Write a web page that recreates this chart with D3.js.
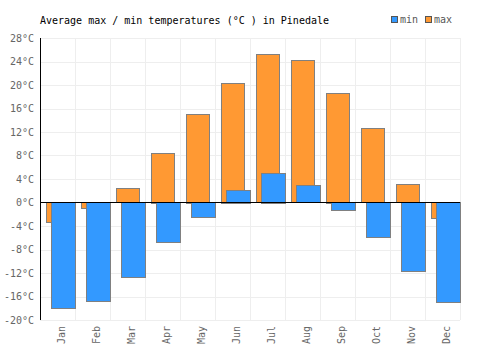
<!DOCTYPE html>
<html><head><meta charset="utf-8">
<script src="https://cdn.jsdelivr.net/npm/d3@7"></script>
<style>body{margin:0;background:#fff}svg{display:block}text{font-family:"DejaVu Sans Mono",monospace}</style>
</head><body>
<svg id="c" width="500" height="350"></svg>
<script>
const months = ["Jan","Feb","Mar","Apr","May","Jun","Jul","Aug","Sep","Oct","Nov","Dec"];
const maxTemps = [-3.4,-1.0,2.4,8.5,15.1,20.4,25.2,24.2,18.7,12.6,3.1,-2.7];
const minTemps = [-18.0,-16.9,-12.8,-6.8,-2.6,2.2,5.1,2.9,-1.4,-6.0,-11.7,-17.0];
const yTicks = [-20,-16,-12,-8,-4,0,4,8,12,16,20,24,28];

const svg = d3.select("#c");
const L=40,R=460,T=38,B=320;
const x = d3.scaleBand().domain(months).range([L,R]);
const y = d3.scaleLinear().domain([-20,28]).range([B,T]);
const bw = x.bandwidth();

// grid
const g = svg.append("g");
g.selectAll("line.h").data(yTicks).join("line")
 .attr("x1",L).attr("x2",R).attr("y1",d=>Math.round(y(d))+0.5).attr("y2",d=>Math.round(y(d))+0.5)
 .attr("stroke","#eeeeee");
g.selectAll("line.v").data(months.slice(1).concat(["end"])).join("line")
 .attr("x1",(d,i)=>Math.round(L+bw*(i+1))+0.5).attr("x2",(d,i)=>Math.round(L+bw*(i+1))+0.5)
 .attr("y1",T).attr("y2",B).attr("stroke","#eeeeee");

// bars
const bar = (v)=>({y:Math.min(y(v),y(0)),h:Math.abs(y(v)-y(0))});
svg.append("g").selectAll("rect").data(maxTemps).join("rect")
 .attr("x",(d,i)=>Math.round(x(months[i])+bw*0.18)+0.5)
 .attr("width",Math.round(bw*0.67))
 .attr("y",d=>Math.round(bar(d).y)+0.5).attr("height",d=>Math.round(bar(d).h))
 .attr("fill","#ff9933").attr("stroke","#808080").attr("stroke-width",1);
svg.append("g").selectAll("rect").data(minTemps).join("rect")
 .attr("x",(d,i)=>Math.round(x(months[i])+bw*0.32)+0.5)
 .attr("width",Math.round(bw*0.68))
 .attr("y",d=>Math.round(bar(d).y)+0.5).attr("height",d=>Math.round(bar(d).h))
 .attr("fill","#3399ff").attr("stroke","#808080").attr("stroke-width",1);

// zero line & y axis line
svg.append("line").attr("x1",L).attr("x2",R).attr("y1",Math.round(y(0))+0.5).attr("y2",Math.round(y(0))+0.5).attr("stroke","#000");
svg.append("line").attr("x1",L+0.5).attr("x2",L+0.5).attr("y1",T).attr("y2",B).attr("stroke","#000");

// y axis labels
const ya = d3.axisLeft(y).tickValues(yTicks).tickSize(0).tickPadding(6).tickFormat(d=>d+"°C");
const yg = svg.append("g").attr("transform",`translate(${L},0)`).call(ya);
yg.select(".domain").remove();
yg.selectAll("text").attr("fill","#666").attr("font-size","10px").attr("font-family","DejaVu Sans Mono");

// x axis labels
const xa = d3.axisBottom(x).tickSize(0).tickPadding(0);
const xg = svg.append("g").attr("transform",`translate(0,${B})`).call(xa);
xg.select(".domain").remove();
xg.selectAll(".tick text").attr("fill","#666").attr("font-size","10px").attr("font-family","DejaVu Sans Mono")
 .attr("text-anchor","end").attr("transform","rotate(-90)").attr("x",-6).attr("y",0).attr("dy","0.7em");

// title
svg.append("text").attr("x",40).attr("y",24).attr("font-size","10px").attr("fill","#000")
 .text("Average max / min temperatures (°C ) in Pinedale");

// legend
const leg = [{k:"min",c:"#3399ff",x:391},{k:"max",c:"#ff9933",x:425}];
const lg = svg.append("g").selectAll("g").data(leg).join("g");
lg.append("rect").attr("x",d=>d.x+0.5).attr("y",16.5).attr("width",6).attr("height",6).attr("fill",d=>d.c).attr("stroke","#555");
lg.append("text").attr("x",d=>d.x+9).attr("y",23).attr("font-size","10px").attr("fill","#555").text(d=>d.k);
</script>
</body></html>
